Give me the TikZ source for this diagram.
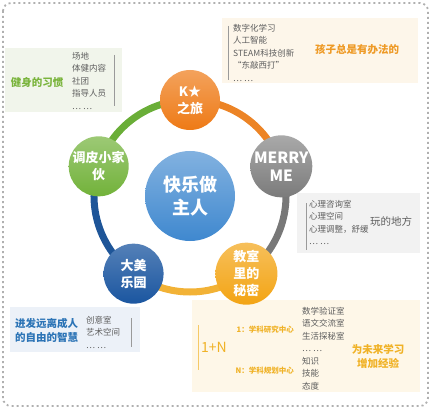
\documentclass[tikz,border=0pt]{standalone}
\usepackage{fontspec}
\setmainfont{Noto Sans CJK SC}
\usetikzlibrary{positioning}

\definecolor{korange}{HTML}{EE7A16}
\definecolor{kgray}{HTML}{7B7B7B}
\definecolor{kgreen}{HTML}{72B23A}
\definecolor{kblue}{HTML}{1B56A0}
\definecolor{kyellow}{HTML}{F3A414}
\definecolor{kcenter}{HTML}{3F88CF}
\definecolor{ringgreen}{HTML}{6AAE38}
\definecolor{ringorange}{HTML}{EC8426}
\definecolor{ringgray}{HTML}{787878}
\definecolor{ringyellow}{HTML}{F2B236}
\definecolor{ringblue}{HTML}{1E5598}
\definecolor{greenbg}{HTML}{F1F5EB}
\definecolor{orangebg}{HTML}{FDF6EA}
\definecolor{graybg}{HTML}{F2F2F2}
\definecolor{bluebg}{HTML}{ECF1F8}
\definecolor{yellowbg}{HTML}{FEF7E8}
\definecolor{listgray}{HTML}{5E5E5E}
\definecolor{bargray}{HTML}{9A9A9A}
\definecolor{framegray}{HTML}{B0B0B0}
\definecolor{titlegreen}{HTML}{7AB43C}
\definecolor{titleorange}{HTML}{EE9A26}
\definecolor{titleblue}{HTML}{2C74B6}
\definecolor{titleyellow}{HTML}{F0B226}

\begin{document}
\begin{tikzpicture}[x=1pt,y=-1pt,
    ball/.style={circle, minimum size=60pt, inner sep=0pt, align=center, text=white,
                 font=\fontsize{13}{17}\selectfont\bfseries},
    listtext/.style={anchor=north west, align=left, inner sep=0pt, text=listgray,
                 font=\fontsize{8.5}{12.5}\selectfont},
    headline/.style={inner sep=0pt, align=left, font=\fontsize{10.5}{14}\selectfont\bfseries},
    centre/.style={inner sep=0pt, anchor=east, text=titleyellow, font=\fontsize{7.5}{9}\selectfont\bfseries},
    ring/.style={line width=7pt},
    bar/.style={line width=0.8pt, bargray}]

  \useasboundingbox (0,0) rectangle (431,409);
  \draw[framegray, line width=1.8pt, dash pattern=on 2pt off 3pt, rounded corners=8pt]
        (3,3) rectangle (428,406);

  % backgrounds of the text boxes
  \fill[greenbg]  (5,48)    rectangle (122,112);
  \fill[orangebg] (222,18)  rectangle (418,83);
  \fill[graybg]   (297,193) rectangle (420,253);
  \fill[bluebg]   (10,307)  rectangle (140,352);
  \fill[yellowbg] (192,300) rectangle (420,392);

  % ring
  \coordinate (c) at (190,196);
  \draw[ring, ringgreen]  (c) ++(198:96) arc[start angle=198, end angle=270, radius=96];
  \draw[ring, ringorange] (c) ++(270:96) arc[start angle=270, end angle=342, radius=96];
  \draw[ring, ringgray]   (c) ++(-18:96) arc[start angle=-18, end angle=54, radius=96];
  \draw[ring, ringyellow] (c) ++(54:96)  arc[start angle=54, end angle=126, radius=96];
  \draw[ring, ringblue]   (c) ++(126:96) arc[start angle=126, end angle=198, radius=96];

  \node[ball, minimum size=90pt, font=\fontsize{18}{23}\selectfont\bfseries,
        top color=kcenter!65!white, bottom color=kcenter] (hub) at (c) {快乐做\\主人};
  \node[ball, top color=korange!70!white, bottom color=korange] (journey) at ([shift={(270:96)}]c) {K★\\之旅};
  \node[ball, minimum size=62pt, font=\fontsize{15.5}{18}\selectfont\bfseries,
        top color=kgray!65!white, bottom color=kgray] (merry) at ([shift={(-18:96)}]c) {MERRY\\ME};
  \node[ball, minimum size=62pt, top color=kyellow!70!white, bottom color=kyellow] (secret) at ([shift={(54:96)}]c) {教室\\里的\\秘密};
  \node[ball, top color=kblue!75!white, bottom color=kblue] (garden) at ([shift={(126:96)}]c) {大美\\乐园};
  \node[ball, top color=kgreen!70!white, bottom color=kgreen] (naughty) at ([shift={(198:96)}]c) {调皮小家\\伙};

  % green box
  \node[headline, titlegreen] (fitness) at (37,83) {健身的习惯};
  \node[listtext] (fitlist) at (72,52) {场地\\体健内容\\社团\\指导人员\\… …};
  \draw[bar] (114,55) -- (114,106);

  % orange box
  \draw[bar] (228,26) -- (228,80);
  \node[listtext] (techlist) at (233,24) {数字化学习\\人工智能\\STEAM科技创新\\“东敲西打”\\… …};
  \node[headline, titleorange] (always) at (357,49) {孩子总是有办法的};

  % gray box
  \draw[bar, line width=0.5pt] (306,203) -- (306,250);
  \node[listtext] (mindlist) at (309,200) {心理咨询室\\心理空间\\心理调整，舒缓\\… …};
  \node[inner sep=0pt, text=listgray, font=\fontsize{10.5}{14}\selectfont] (play) at (391,221) {玩的地方};

  % blue box
  \node[headline, titleblue, anchor=west] (wisdom) at (15,330) {进发远离成人\\的自由的智慧};
  \node[listtext] (artlist) at (86,316) {创意室\\艺术空间\\… …};
  \draw[bar] (131,318) -- (131,347);

  % yellow box
  \draw[bar, titleyellow!70!white, line width=0.5pt] (198,325) -- (198,370);
  \node[inner sep=0pt, text=titleyellow, font=\fontsize{14}{16}\selectfont] (onen) at (214,347) {1+N};
  \node[centre] (research) at (294,330) {1：学科研究中心};
  \node[centre] (planning) at (294,371) {N：学科规划中心};
  \node[listtext] (labslist) at (302,307) {数学验证室\\语文交流室\\生活探秘室\\… …\\知识\\技能\\态度};
  \node[headline, titleyellow, align=center] (future) at (378,356) {为未来学习\\增加经验};
\end{tikzpicture}
\end{document}
